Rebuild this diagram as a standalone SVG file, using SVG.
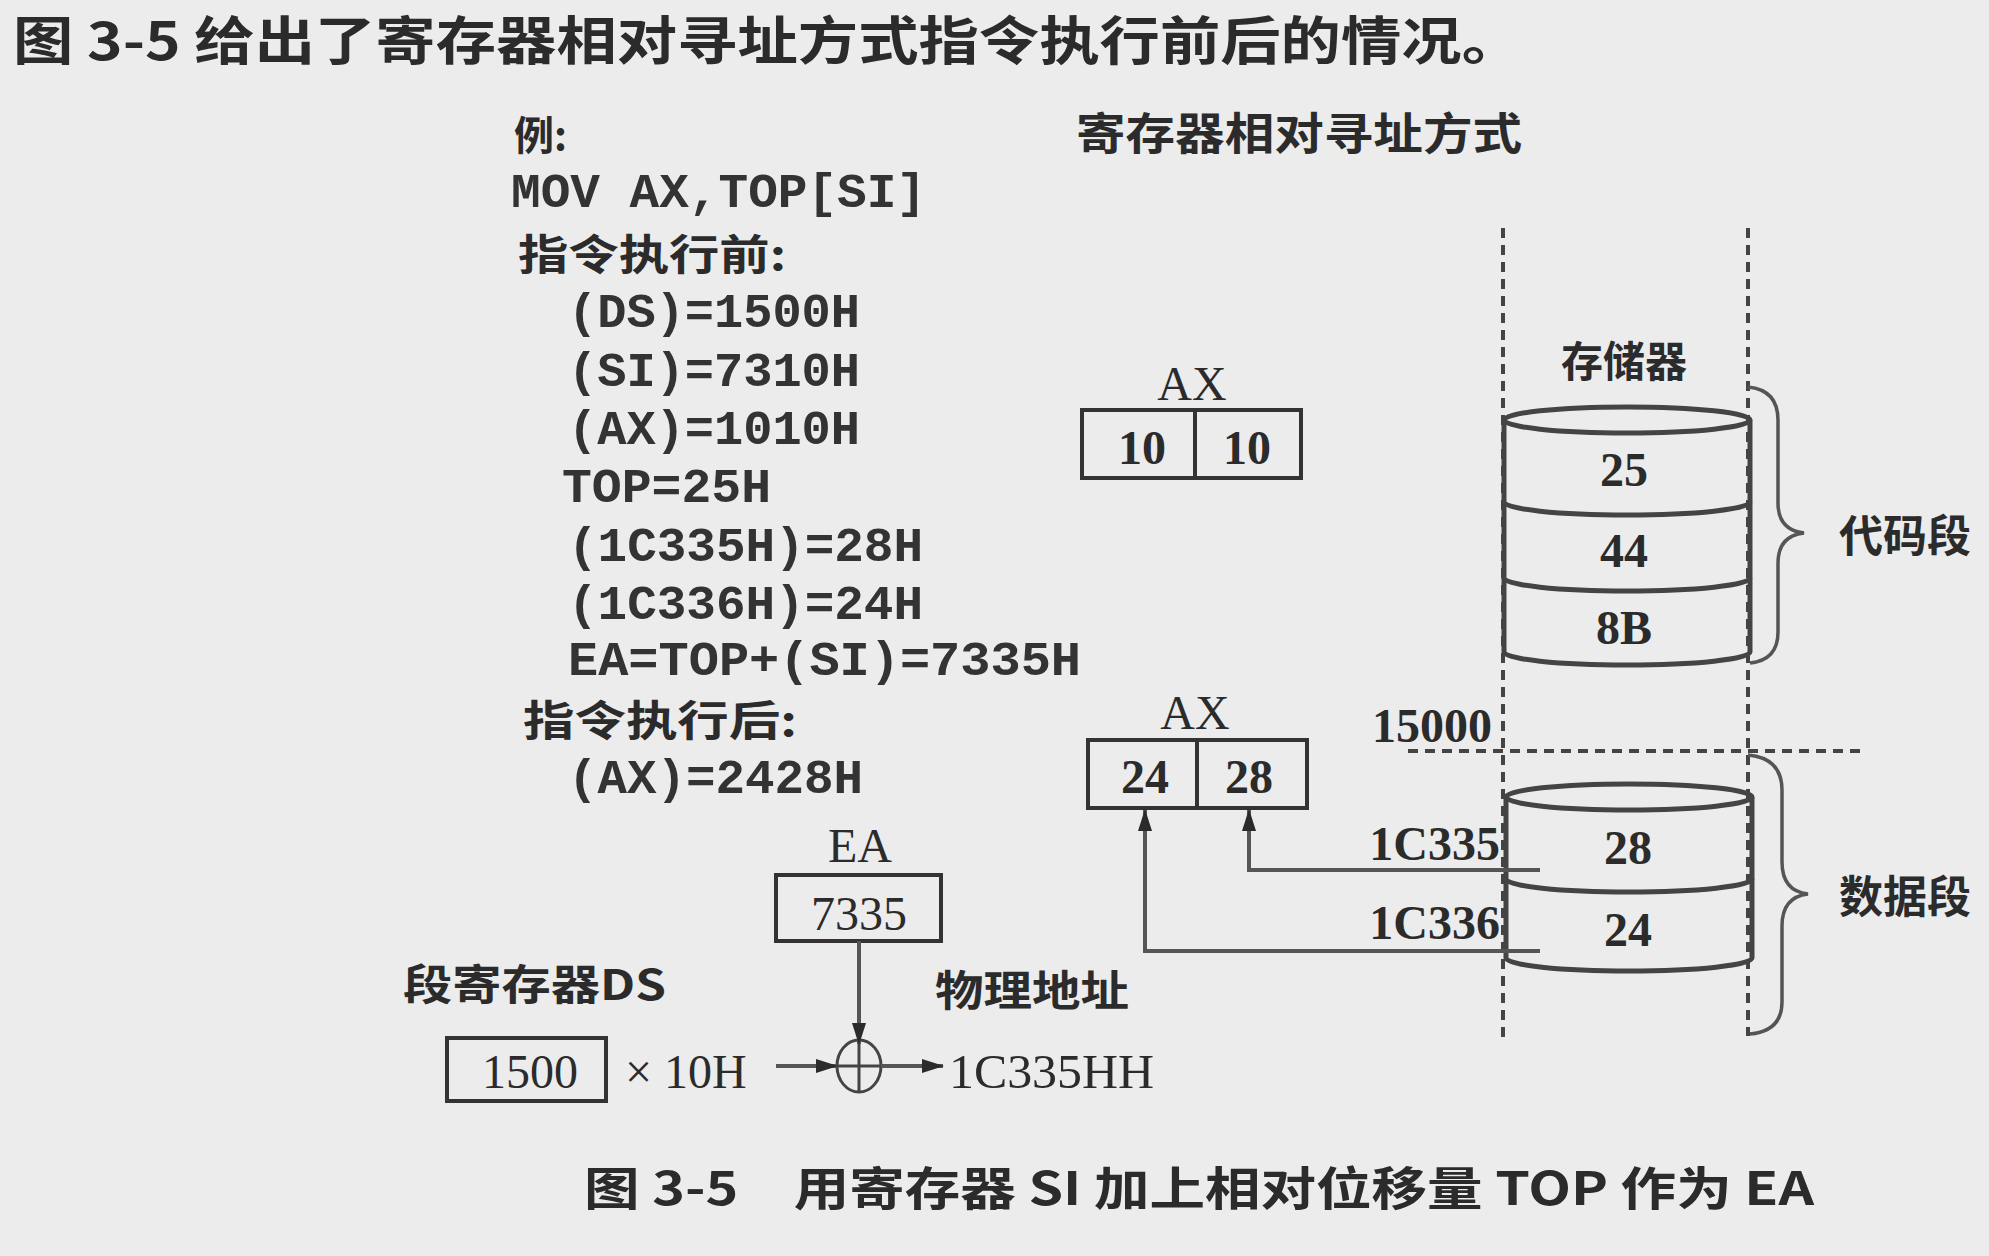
<svg xmlns="http://www.w3.org/2000/svg" width="1989" height="1256" viewBox="0 0 1989 1256">
<defs>
<marker id="arr" viewBox="0 0 22 14" refX="21" refY="7" markerWidth="22" markerHeight="14" markerUnits="userSpaceOnUse" orient="auto">
<path d="M0,0 L22,7 L0,14 Z" fill="#2b2b2b"/>
</marker>
<style>
.cn{font-family:"Noto Sans CJK SC","Noto Sans",sans-serif;fill:#2b2b2b;font-weight:bold}
.mono{font-family:"Liberation Mono","DejaVu Sans Mono",monospace;fill:#333;font-weight:bold;font-size:48px}
.num{font-family:"Liberation Serif","Times New Roman",serif;fill:#2b2b2b;font-size:48px}
.box{fill:none;stroke:#333;stroke-width:4}
.cyl{fill:none;stroke:#444;stroke-width:5}
.dash{stroke:#444;stroke-width:4;stroke-dasharray:10 7;fill:none}
.line{stroke:#555;stroke-width:4;fill:none}
.brace{fill:none;stroke:#555;stroke-width:3.5}
</style>
</defs>
<rect width="1989" height="1256" fill="#ebeceb"/>

<g id="intro">
<text class="cn" x="13" y="60" font-size="52" textLength="1509" lengthAdjust="spacingAndGlyphs">图 3-5 给出了寄存器相对寻址方式指令执行前后的情况。</text>
</g>

<g id="example-text">
<text class="cn" x="514" y="150" font-size="40">例:</text>
<text class="mono" x="511" y="207" textLength="415" lengthAdjust="spacingAndGlyphs">MOV AX,TOP[SI]</text>
<text class="cn" x="518" y="270" font-size="42" textLength="268" lengthAdjust="spacingAndGlyphs">指令执行前:</text>
<text class="mono" x="568" y="327" textLength="292" lengthAdjust="spacingAndGlyphs">(DS)=1500H</text>
<text class="mono" x="568" y="386" textLength="292" lengthAdjust="spacingAndGlyphs">(SI)=7310H</text>
<text class="mono" x="568" y="444" textLength="292" lengthAdjust="spacingAndGlyphs">(AX)=1010H</text>
<text class="mono" x="562" y="502" textLength="209" lengthAdjust="spacingAndGlyphs">TOP=25H</text>
<text class="mono" x="568" y="561" textLength="355" lengthAdjust="spacingAndGlyphs">(1C335H)=28H</text>
<text class="mono" x="568" y="619" textLength="355" lengthAdjust="spacingAndGlyphs">(1C336H)=24H</text>
<text class="mono" x="568" y="675" textLength="513" lengthAdjust="spacingAndGlyphs">EA=TOP+(SI)=7335H</text>
<text class="cn" x="523" y="736" font-size="42" textLength="274" lengthAdjust="spacingAndGlyphs">指令执行后:</text>
<text class="mono" x="568" y="793" textLength="295" lengthAdjust="spacingAndGlyphs">(AX)=2428H</text>
</g>

<g id="title-mode">
<text class="cn" x="1076" y="150" font-size="44" textLength="446" lengthAdjust="spacingAndGlyphs">寄存器相对寻址方式</text>
</g>

<g id="segment-lines">
<line class="dash" x1="1503" y1="228" x2="1503" y2="1040"/>
<line class="dash" x1="1748" y1="228" x2="1748" y2="1036"/>
<line class="dash" x1="1408" y1="751" x2="1865" y2="751"/>
<text class="num" x="1492" y="742" text-anchor="end" font-size="44" font-weight="bold">15000</text>
</g>

<g id="ax-before">
<text class="num" x="1192" y="400" text-anchor="middle">AX</text>
<rect class="box" x="1082" y="410" width="219" height="68"/>
<line class="box" x1="1195" y1="410" x2="1195" y2="478"/>
<text class="num" x="1142" y="464" text-anchor="middle" font-weight="bold">10</text>
<text class="num" x="1247" y="464" text-anchor="middle" font-weight="bold">10</text>
</g>

<g id="memory-code">
<text class="cn" x="1624" y="377" text-anchor="middle" font-size="42">存储器</text>
<ellipse class="cyl" cx="1627" cy="420" rx="123" ry="13"/>
<line class="cyl" x1="1504" y1="420" x2="1504" y2="652"/>
<line class="cyl" x1="1750" y1="420" x2="1750" y2="652"/>
<path class="cyl" d="M1504,502 A123,13 0 0 0 1750,502"/>
<path class="cyl" d="M1504,578 A123,13 0 0 0 1750,578"/>
<path class="cyl" d="M1504,652 A123,13 0 0 0 1750,652"/>
<text class="num" x="1624" y="486" text-anchor="middle" font-weight="bold">25</text>
<text class="num" x="1624" y="567" text-anchor="middle" font-weight="bold">44</text>
<text class="num" x="1624" y="644" text-anchor="middle" font-weight="bold">8B</text>
<path class="brace" d="M1748,387 Q1778,390 1778,420 L1778,503 Q1778,530 1804,533 Q1778,536 1778,563 L1778,632 Q1778,660 1750,663"/>
<text class="cn" x="1839" y="552" font-size="44">代码段</text>
</g>

<g id="ax-after">
<text class="num" x="1195" y="729" text-anchor="middle">AX</text>
<rect class="box" x="1088" y="740" width="219" height="68"/>
<line class="box" x1="1197" y1="740" x2="1197" y2="808"/>
<text class="num" x="1145" y="793" text-anchor="middle" font-weight="bold">24</text>
<text class="num" x="1249" y="793" text-anchor="middle" font-weight="bold">28</text>
</g>

<g id="memory-data">
<ellipse class="cyl" cx="1629" cy="797" rx="123" ry="13"/>
<line class="cyl" x1="1506" y1="797" x2="1506" y2="958"/>
<line class="cyl" x1="1752" y1="797" x2="1752" y2="958"/>
<path class="cyl" d="M1506,879 A123,13 0 0 0 1752,879"/>
<path class="cyl" d="M1506,958 A123,13 0 0 0 1752,958"/>
<text class="num" x="1628" y="864" text-anchor="middle" font-weight="bold">28</text>
<text class="num" x="1628" y="946" text-anchor="middle" font-weight="bold">24</text>
<text class="num" x="1500" y="860" text-anchor="end" font-size="44" font-weight="bold">1C335</text>
<text class="num" x="1500" y="939" text-anchor="end" font-size="44" font-weight="bold">1C336</text>
<path class="brace" d="M1748,755 Q1782,758 1782,790 L1782,862 Q1782,891 1808,894 Q1782,897 1782,926 L1782,1002 Q1782,1031 1750,1034"/>
<text class="cn" x="1839" y="913" font-size="44">数据段</text>
</g>

<g id="ea-box">
<text class="num" x="860" y="862" text-anchor="middle">EA</text>
<rect class="box" x="776" y="875" width="165" height="66"/>
<text class="num" x="859" y="930" text-anchor="middle">7335</text>
</g>

<g id="ds-box">
<text class="cn" x="403" y="1000" font-size="42" textLength="263" lengthAdjust="spacingAndGlyphs">段寄存器DS</text>
<rect class="box" x="447" y="1038" width="159" height="63"/>
<text class="num" x="530" y="1088" text-anchor="middle">1500</text>
<text class="num" x="625" y="1088">× 10H</text>
</g>

<g id="adder">
<ellipse cx="859" cy="1066" rx="22" ry="26" fill="none" stroke="#444" stroke-width="3"/>
<line x1="859" y1="1040" x2="859" y2="1092" stroke="#444" stroke-width="3"/>
<line x1="837" y1="1066" x2="881" y2="1066" stroke="#444" stroke-width="3"/>
</g>

<g id="physical-address">
<text class="cn" x="935" y="1006" font-size="42" textLength="194" lengthAdjust="spacingAndGlyphs">物理地址</text>
<text class="num" x="949" y="1088" textLength="205" lengthAdjust="spacingAndGlyphs">1C335HH</text>
</g>

<g id="connectors">
<line class="line" x1="859" y1="941" x2="859" y2="1044" marker-end="url(#arr)" stroke="#333" stroke-width="3"/>
<line class="line" x1="776" y1="1066" x2="837" y2="1066" marker-end="url(#arr)" stroke-width="3"/>
<line class="line" x1="881" y1="1066" x2="943" y2="1066" marker-end="url(#arr)" stroke-width="3"/>
<polyline class="line" points="1540,870 1249,870 1249,810" marker-end="url(#arr)"/>
<polyline class="line" points="1540,951 1145,951 1145,810" marker-end="url(#arr)"/>
</g>

<g id="caption">
<text class="cn" x="584" y="1205" font-size="46" textLength="1230" lengthAdjust="spacingAndGlyphs">图 3-5　用寄存器 SI 加上相对位移量 TOP 作为 EA</text>
</g>
</svg>
